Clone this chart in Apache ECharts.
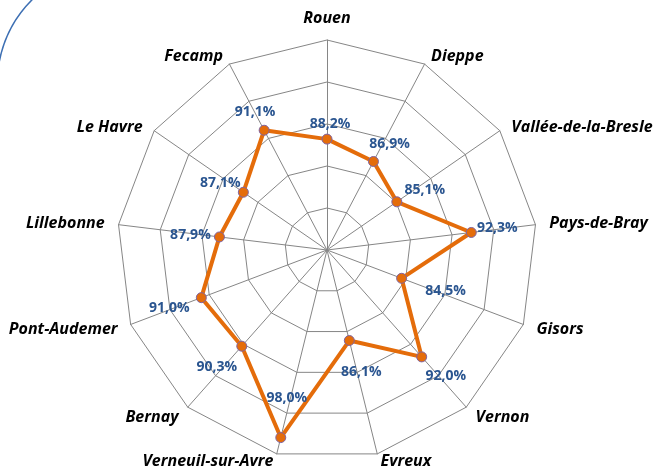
<!DOCTYPE html>
<html>
<head>
<meta charset="utf-8">
<script src="https://cdn.jsdelivr.net/npm/echarts@6/dist/echarts.min.js"></script>
<style>
  html, body { margin: 0; padding: 0; background: #fff; }
  #chart { width: 659px; height: 470px; }
</style>
</head>
<body>
<div id="chart"></div>
<script>
// sites, clockwise from the top
var sites = ['Rouen', 'Dieppe', 'Vallée-de-la-Bresle', 'Pays-de-Bray', 'Gisors', 'Vernon', 'Evreux',
  'Verneuil-sur-Avre', 'Bernay', 'Pont-Audemer', 'Lillebonne', 'Le Havre', 'Fecamp']
var rates = [88.2, 86.9, 85.1, 92.3, 84.5, 92.0, 86.1, 98.0, 90.3, 91.0, 87.9, 87.1, 91.1]
var axisMin = 75
var axisMax = 100

// where each percentage label sits relative to its point (style only)
var labelOffsets = [[3, -15], [16, -17], [28, -12], [26, -4], [44, 13], [24, 19], [12, 31],
  [6, -40], [-25, 21], [-32, 10], [-29, -2], [-23, -9], [-9, -18]]
// names that sit a little lower / higher than the default gap
var lowerNames = ['Dieppe', 'Fecamp', 'Vallée-de-la-Bresle', 'Le Havre']
var higherNames = ['Evreux', 'Verneuil-sur-Avre']

var center = [327, 250]
var radius = 210

function pct(v) {
  return v.toFixed(1).replace('.', ',') + '%'
}

// echarts radar goes counter-clockwise, so feed it the first item then the rest reversed
function ccw(arr) {
  return [arr[0]].concat(arr.slice(1).reverse())
}

var myChart = echarts.init(document.getElementById('chart'))

var nameFont = { fontFamily: 'Open Sans', fontSize: 16, fontWeight: 'bold', fontStyle: 'italic', color: '#000' }

var option = {
  backgroundColor: '#ffffff',
  animation: false,
  radar: {
    center: center,
    radius: radius,
    startAngle: 90,
    shape: 'polygon',
    splitNumber: 5,
    indicator: ccw(sites).map(function (s) { return { name: s, min: axisMin, max: axisMax } }),
    axisName: {
      color: '#000000',
      fontFamily: 'Open Sans',
      fontSize: 16,
      fontWeight: 'bold',
      fontStyle: 'italic',
      formatter: function (name) {
        if (lowerNames.indexOf(name) >= 0) return '{dn|' + name + '}'
        if (higherNames.indexOf(name) >= 0) return '{up|' + name + '}'
        return name
      },
      rich: {
        dn: Object.assign({ padding: [10, 0, 0, 0] }, nameFont),
        up: Object.assign({ padding: [0, 0, 12, 0] }, nameFont)
      }
    },
    nameGap: 14,
    axisLine: { lineStyle: { color: '#868686', width: 1 } },
    splitLine: { lineStyle: { color: '#868686', width: 1 } },
    splitArea: { show: false },
    axisTick: { show: false },
    axisLabel: { show: false }
  },
  // polar system laid over the radar, only used to place the value labels
  polar: { center: center, radius: radius },
  angleAxis: { type: 'value', min: 0, max: sites.length, startAngle: 90, clockwise: true, show: false },
  radiusAxis: { type: 'value', min: axisMin, max: axisMax, show: false },
  graphic: [
    {
      type: 'arc',
      shape: { cx: 118, cy: 85, r: 121, startAngle: 3.3, endAngle: 4.0 },
      style: { stroke: '#3d6fb3', lineWidth: 1.5, fill: null },
      silent: true
    }
  ],
  series: [
    {
      type: 'radar',
      symbol: 'circle',
      symbolSize: 10,
      lineStyle: { color: '#e46c0a', width: 4 },
      itemStyle: { color: '#e46c0a', borderColor: '#8064a2', borderWidth: 1 },
      data: [{ value: ccw(rates), name: 'Taux' }]
    },
    {
      type: 'scatter',
      coordinateSystem: 'polar',
      symbolSize: 0,
      silent: true,
      z: 5,
      itemStyle: { opacity: 1 },
      label: {
        show: true,
        position: 'inside',
        align: 'center',
        verticalAlign: 'middle',
        color: '#2a5590',
        opacity: 1,
        textBorderWidth: 0,
        textBorderColor: 'transparent',
        fontFamily: 'Open Sans',
        fontSize: 14,
        fontWeight: 'bold',
        formatter: function (p) { return pct(p.value[0]) }
      },
      data: rates.map(function (v, i) {
        return { value: [v, i], label: { offset: labelOffsets[i] } }
      })
    }
  ]
}

myChart.setOption(option)
</script>
</body>
</html>
